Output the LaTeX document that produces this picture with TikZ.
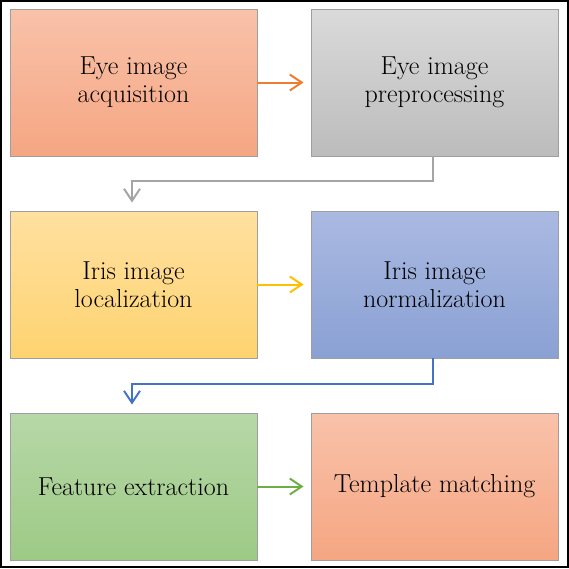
\documentclass[tikz,border=0pt]{standalone}
\usetikzlibrary{arrows.meta}
\begin{document}
\begin{tikzpicture}[x=1pt,y=-1pt,
  stage/.style={rectangle, draw=black!38, line width=0.8pt, minimum width=247pt, minimum height=147pt,
    align=center, font=\fontsize{26}{28}\selectfont, inner sep=0pt},
  conn/.style={line width=2pt, -{Straight Barb[length=12pt,width=16pt,line width=2pt]}},
  ]
\useasboundingbox (0,0) rectangle (569,568);
\draw[line width=1.6pt] (0.8,0.8) rectangle (568.2,567.2);
\definecolor{salmonT}{RGB}{249,194,170}
\definecolor{salmonB}{RGB}{245,166,130}
\definecolor{greyT}{RGB}{218,218,218}
\definecolor{greyB}{RGB}{188,188,188}
\definecolor{yelT}{RGB}{255,224,160}
\definecolor{yelB}{RGB}{254,211,112}
\definecolor{bluT}{RGB}{170,185,225}
\definecolor{bluB}{RGB}{138,161,212}
\definecolor{grnT}{RGB}{183,215,168}
\definecolor{grnB}{RGB}{157,202,133}
\definecolor{aOrange}{RGB}{237,125,49}
\definecolor{aGrey}{RGB}{165,165,165}
\definecolor{aGold}{RGB}{255,192,0}
\definecolor{aBlue}{RGB}{68,114,196}
\definecolor{aGreen}{RGB}{112,173,71}
\node[stage, top color=salmonT, bottom color=salmonB] (b1) at (133.5,82.5) {Eye image\\acquisition};
\node[stage, top color=greyT, bottom color=greyB] (b2) at (434.5,82.5) {Eye image\\preprocessing};
\node[stage, top color=yelT, bottom color=yelB] (b3) at (133.5,284.5) {Iris image\\localization};
\node[stage, top color=bluT, bottom color=bluB] (b4) at (434.5,284.5) {Iris image\\normalization};
\node[stage, top color=grnT, bottom color=grnB] (b5) at (133.5,486.5) {Feature extraction};
\node[stage, top color=salmonT, bottom color=salmonB] (b6) at (434.5,486.5) {Template matching};
\draw[conn, aOrange, shorten >=7pt] (b1.east) -- (b2.west);
\draw[conn, aGold, shorten >=7pt] (b3.east) -- (b4.west);
\draw[conn, aGreen, shorten >=7pt] (b5.east) -- (b6.west);
\draw[conn, aGrey, shorten >=8pt] ([xshift=-2pt]b2.south) -- ++(0,25) -| ([xshift=-1.5pt]b3.north);
\draw[conn, aBlue, shorten >=8pt] ([xshift=-2pt]b4.south) -- ++(0,26) -| ([xshift=-1.5pt]b5.north);
\end{tikzpicture}
\end{document}
